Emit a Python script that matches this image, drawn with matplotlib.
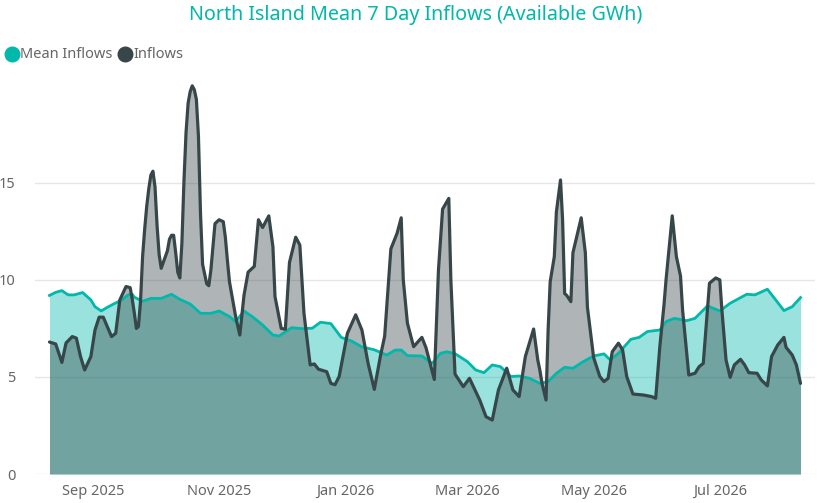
import matplotlib
matplotlib.use("Agg")
import matplotlib.pyplot as plt
import matplotlib.dates as mdates
from matplotlib.lines import Line2D
import pandas as pd

# ---- data ----
inflow_dates = [
    "2025-08-11", "2025-08-14", "2025-08-17", "2025-08-19", "2025-08-22", "2025-08-24",
    "2025-08-26", "2025-08-28", "2025-08-31", "2025-09-02", "2025-09-04", "2025-09-06",
    "2025-09-10", "2025-09-12", "2025-09-14", "2025-09-17", "2025-09-19", "2025-09-20",
    "2025-09-21", "2025-09-22", "2025-09-23", "2025-09-24", "2025-09-25", "2025-09-26",
    "2025-09-27", "2025-09-28", "2025-09-29", "2025-09-30", "2025-10-01", "2025-10-02",
    "2025-10-03", "2025-10-04", "2025-10-05", "2025-10-07", "2025-10-08", "2025-10-09",
    "2025-10-10", "2025-10-11", "2025-10-12", "2025-10-13", "2025-10-14", "2025-10-15",
    "2025-10-16", "2025-10-17", "2025-10-18", "2025-10-19", "2025-10-20", "2025-10-21",
    "2025-10-22", "2025-10-23", "2025-10-24", "2025-10-26", "2025-10-27", "2025-10-28",
    "2025-10-30", "2025-11-01", "2025-11-03", "2025-11-04", "2025-11-05", "2025-11-06",
    "2025-11-09", "2025-11-11", "2025-11-13", "2025-11-15", "2025-11-18", "2025-11-20",
    "2025-11-22", "2025-11-25", "2025-11-27", "2025-11-28", "2025-12-01", "2025-12-03",
    "2025-12-05", "2025-12-08", "2025-12-10", "2025-12-12", "2025-12-15", "2025-12-17",
    "2025-12-19", "2025-12-23", "2025-12-25", "2025-12-27", "2025-12-29", "2026-01-02",
    "2026-01-06", "2026-01-09", "2026-01-12", "2026-01-15", "2026-01-18", "2026-01-20",
    "2026-01-23", "2026-01-26", "2026-01-28", "2026-01-29", "2026-01-31", "2026-02-03",
    "2026-02-07", "2026-02-09", "2026-02-13", "2026-02-15", "2026-02-17", "2026-02-20",
    "2026-02-21", "2026-02-23", "2026-02-27", "2026-03-02", "2026-03-07", "2026-03-10",
    "2026-03-13", "2026-03-16", "2026-03-20", "2026-03-23", "2026-03-26", "2026-03-29",
    "2026-04-02", "2026-04-04", "2026-04-05", "2026-04-06", "2026-04-08", "2026-04-09",
    "2026-04-10", "2026-04-12", "2026-04-13", "2026-04-15", "2026-04-16", "2026-04-17",
    "2026-04-18", "2026-04-20", "2026-04-21", "2026-04-23", "2026-04-25", "2026-04-27",
    "2026-04-28", "2026-05-01", "2026-05-04", "2026-05-06", "2026-05-08", "2026-05-10",
    "2026-05-13", "2026-05-15", "2026-05-17", "2026-05-20", "2026-05-25", "2026-05-29",
    "2026-05-31", "2026-06-02", "2026-06-04", "2026-06-05", "2026-06-07", "2026-06-08",
    "2026-06-10", "2026-06-12", "2026-06-13", "2026-06-16", "2026-06-19", "2026-06-21",
    "2026-06-23", "2026-06-24", "2026-06-26", "2026-06-29", "2026-07-01", "2026-07-02",
    "2026-07-04", "2026-07-06", "2026-07-08", "2026-07-11", "2026-07-13", "2026-07-15",
    "2026-07-19", "2026-07-21", "2026-07-24", "2026-07-26", "2026-07-29", "2026-08-01",
    "2026-08-02", "2026-08-05", "2026-08-07", "2026-08-09",
]
inflow_values = [
    6.8, 6.7, 5.75, 6.75, 7.08, 7.0,
    6.05, 5.36, 6.05, 7.42, 8.08, 8.08,
    7.08, 7.25, 8.97, 9.66, 9.6, 9.0,
    8.3, 7.5, 7.6, 8.9, 11.2, 12.6,
    13.8, 14.7, 15.4, 15.6, 14.8, 12.8,
    11.3, 10.6, 10.9, 11.5, 12.1, 12.3,
    12.3, 11.4, 10.4, 10.1, 11.9, 15.1,
    17.6, 19.1, 19.7, 20.0, 19.8, 19.3,
    17.4, 13.4, 10.8, 9.8, 9.7, 10.5,
    12.9, 13.1, 13.0, 12.2, 11.0, 9.9,
    8.1, 7.16, 9.2, 10.4, 10.7, 13.1,
    12.7, 13.3, 11.7, 9.14, 7.5, 7.46,
    10.9, 12.2, 11.8, 8.28, 5.62, 5.67,
    5.4, 5.27, 4.67, 4.6, 5.02, 7.25,
    8.2, 7.42, 5.7, 4.36, 6.1, 7.1,
    11.6, 12.4, 13.2, 10.0, 7.77, 6.56,
    7.04, 6.5, 4.87, 10.5, 13.65, 14.2,
    10.0, 5.15, 4.5, 4.93, 3.8, 2.95,
    2.78, 4.33, 5.45, 4.33, 3.99, 6.05,
    7.47, 5.88, 5.36, 4.7, 3.81, 7.4,
    9.9, 11.2, 13.5, 15.15, 13.1, 9.3,
    9.2, 8.88, 11.4, 12.3, 13.2, 11.4,
    8.6, 6.0, 5.02, 4.76, 4.93, 6.3,
    6.74, 6.4, 5.02, 4.12, 4.07, 3.99,
    3.9, 6.56, 8.7, 10.0, 12.2, 13.3,
    11.2, 10.2, 8.45, 5.1, 5.19, 5.53,
    5.7, 7.08, 9.83, 10.1, 10.0, 8.45,
    5.88, 4.98, 5.62, 5.91, 5.62, 5.22,
    5.19, 4.85, 4.54, 6.05, 6.65, 7.04,
    6.53, 6.13, 5.62, 4.67,
]

mean_dates = [
    "2025-08-11", "2025-08-14", "2025-08-17", "2025-08-20", "2025-08-23", "2025-08-27",
    "2025-08-31", "2025-09-02", "2025-09-05", "2025-09-08", "2025-09-11", "2025-09-15",
    "2025-09-18", "2025-09-20", "2025-09-21", "2025-09-25", "2025-09-29", "2025-10-04",
    "2025-10-09", "2025-10-13", "2025-10-18", "2025-10-23", "2025-10-28", "2025-11-01",
    "2025-11-06", "2025-11-09", "2025-11-13", "2025-11-17", "2025-11-22", "2025-11-27",
    "2025-11-30", "2025-12-06", "2025-12-11", "2025-12-16", "2025-12-20", "2025-12-25",
    "2025-12-30", "2026-01-04", "2026-01-09", "2026-01-15", "2026-01-21", "2026-01-25",
    "2026-01-28", "2026-01-31", "2026-02-07", "2026-02-12", "2026-02-16", "2026-02-19",
    "2026-02-23", "2026-03-01", "2026-03-05", "2026-03-09", "2026-03-13", "2026-03-17",
    "2026-03-22", "2026-03-26", "2026-03-31", "2026-04-05", "2026-04-09", "2026-04-13",
    "2026-04-17", "2026-04-21", "2026-04-26", "2026-05-01", "2026-05-06", "2026-05-09",
    "2026-05-13", "2026-05-19", "2026-05-23", "2026-05-27", "2026-06-02", "2026-06-05",
    "2026-06-09", "2026-06-15", "2026-06-19", "2026-06-25", "2026-07-01", "2026-07-06",
    "2026-07-09", "2026-07-14", "2026-07-18", "2026-07-24", "2026-07-28", "2026-08-01",
    "2026-08-05", "2026-08-09",
]
mean_values = [
    9.2, 9.36, 9.45, 9.23, 9.23, 9.35,
    8.97, 8.62, 8.4, 8.59, 8.76, 8.97,
    9.23, 9.26, 9.11, 8.9, 9.05, 9.05,
    9.26, 9.0, 8.76, 8.28, 8.28, 8.4,
    8.11, 7.85, 8.4, 8.11, 7.68, 7.16,
    7.11, 7.54, 7.49, 7.51, 7.82, 7.75,
    7.04, 6.85, 6.55, 6.4, 6.13, 6.38,
    6.39, 6.1, 6.08, 5.7, 6.22, 6.3,
    6.2, 5.79, 5.36, 5.22, 5.62, 5.53,
    5.02, 5.05, 4.93, 4.67, 4.76, 5.19,
    5.5, 5.45, 5.79, 6.08, 6.19, 5.88,
    6.22, 6.94, 7.04, 7.34, 7.42, 7.85,
    8.02, 7.9, 8.02, 8.66, 8.4, 8.8,
    8.97, 9.26, 9.23, 9.52, 8.97, 8.42,
    8.62, 9.09,
]

series_names = ["Mean Inflows", "Inflows"]
y_ticks = [0, 5, 10, 15]
title_text = "North Island Mean 7 Day Inflows (Available GWh)"

# ---- styling ----
TEAL = "#01B8AA"
DARK = "#374649"
FONT = ["Noto Sans", "DejaVu Sans"]
plt.rcParams["font.family"] = FONT

inflow_x = pd.to_datetime(inflow_dates)
mean_x = pd.to_datetime(mean_dates)

fig = plt.figure(figsize=(8.17, 5.03), dpi=100)
ax = fig.add_axes([35 / 817, 29 / 503, 780 / 817, 394 / 503])

ax.fill_between(mean_x, 0, mean_values, color=TEAL, alpha=0.4, linewidth=0, zorder=2)
ax.fill_between(inflow_x, 0, inflow_values, color=DARK, alpha=0.4, linewidth=0, zorder=3)
ax.plot(mean_x, mean_values, color=TEAL, lw=2.0, zorder=4, solid_joinstyle="round")
ax.plot(inflow_x, inflow_values, color=DARK, lw=2.3, zorder=5,
        solid_joinstyle="round", solid_capstyle="round")

x0 = pd.Timestamp(inflow_dates[0]) - pd.Timedelta(days=7)
x1 = pd.Timestamp(inflow_dates[-1]) + pd.Timedelta(days=7)
ax.set_xlim(x0, x1)
ax.set_ylim(0, 20.3)
ax.set_yticks(y_ticks)
ax.yaxis.grid(True, color="#E6E6E6", lw=1, zorder=0)
ax.set_axisbelow(True)
for s in ax.spines.values():
    s.set_visible(False)

ax.xaxis.set_major_locator(mdates.MonthLocator(bymonth=[1, 3, 5, 7, 9, 11]))
ax.xaxis.set_major_formatter(mdates.DateFormatter("%b %Y"))
ax.tick_params(axis="both", length=0, labelsize=10.5, labelcolor="#666666")
ax.tick_params(axis="x", pad=7)
ax.tick_params(axis="y", pad=14)

fig.text(416 / 817, 1 - 15 / 503, title_text, ha="center", va="center",
         color=TEAL, fontsize=14.2)

# legend
ly = 1 - 54 / 503
fig.add_artist(Line2D([12 / 817], [ly], marker="o", ms=10.5, color=TEAL,
                      transform=fig.transFigure, lw=0))
fig.text(20 / 817, ly, series_names[0], ha="left", va="center",
         color="#666666", fontsize=10.5)
fig.add_artist(Line2D([125 / 817], [ly], marker="o", ms=10.5, color=DARK,
                      transform=fig.transFigure, lw=0))
fig.text(133 / 817, ly, series_names[1], ha="left", va="center",
         color="#666666", fontsize=10.5)

fig.savefig("out.png", dpi=100)
